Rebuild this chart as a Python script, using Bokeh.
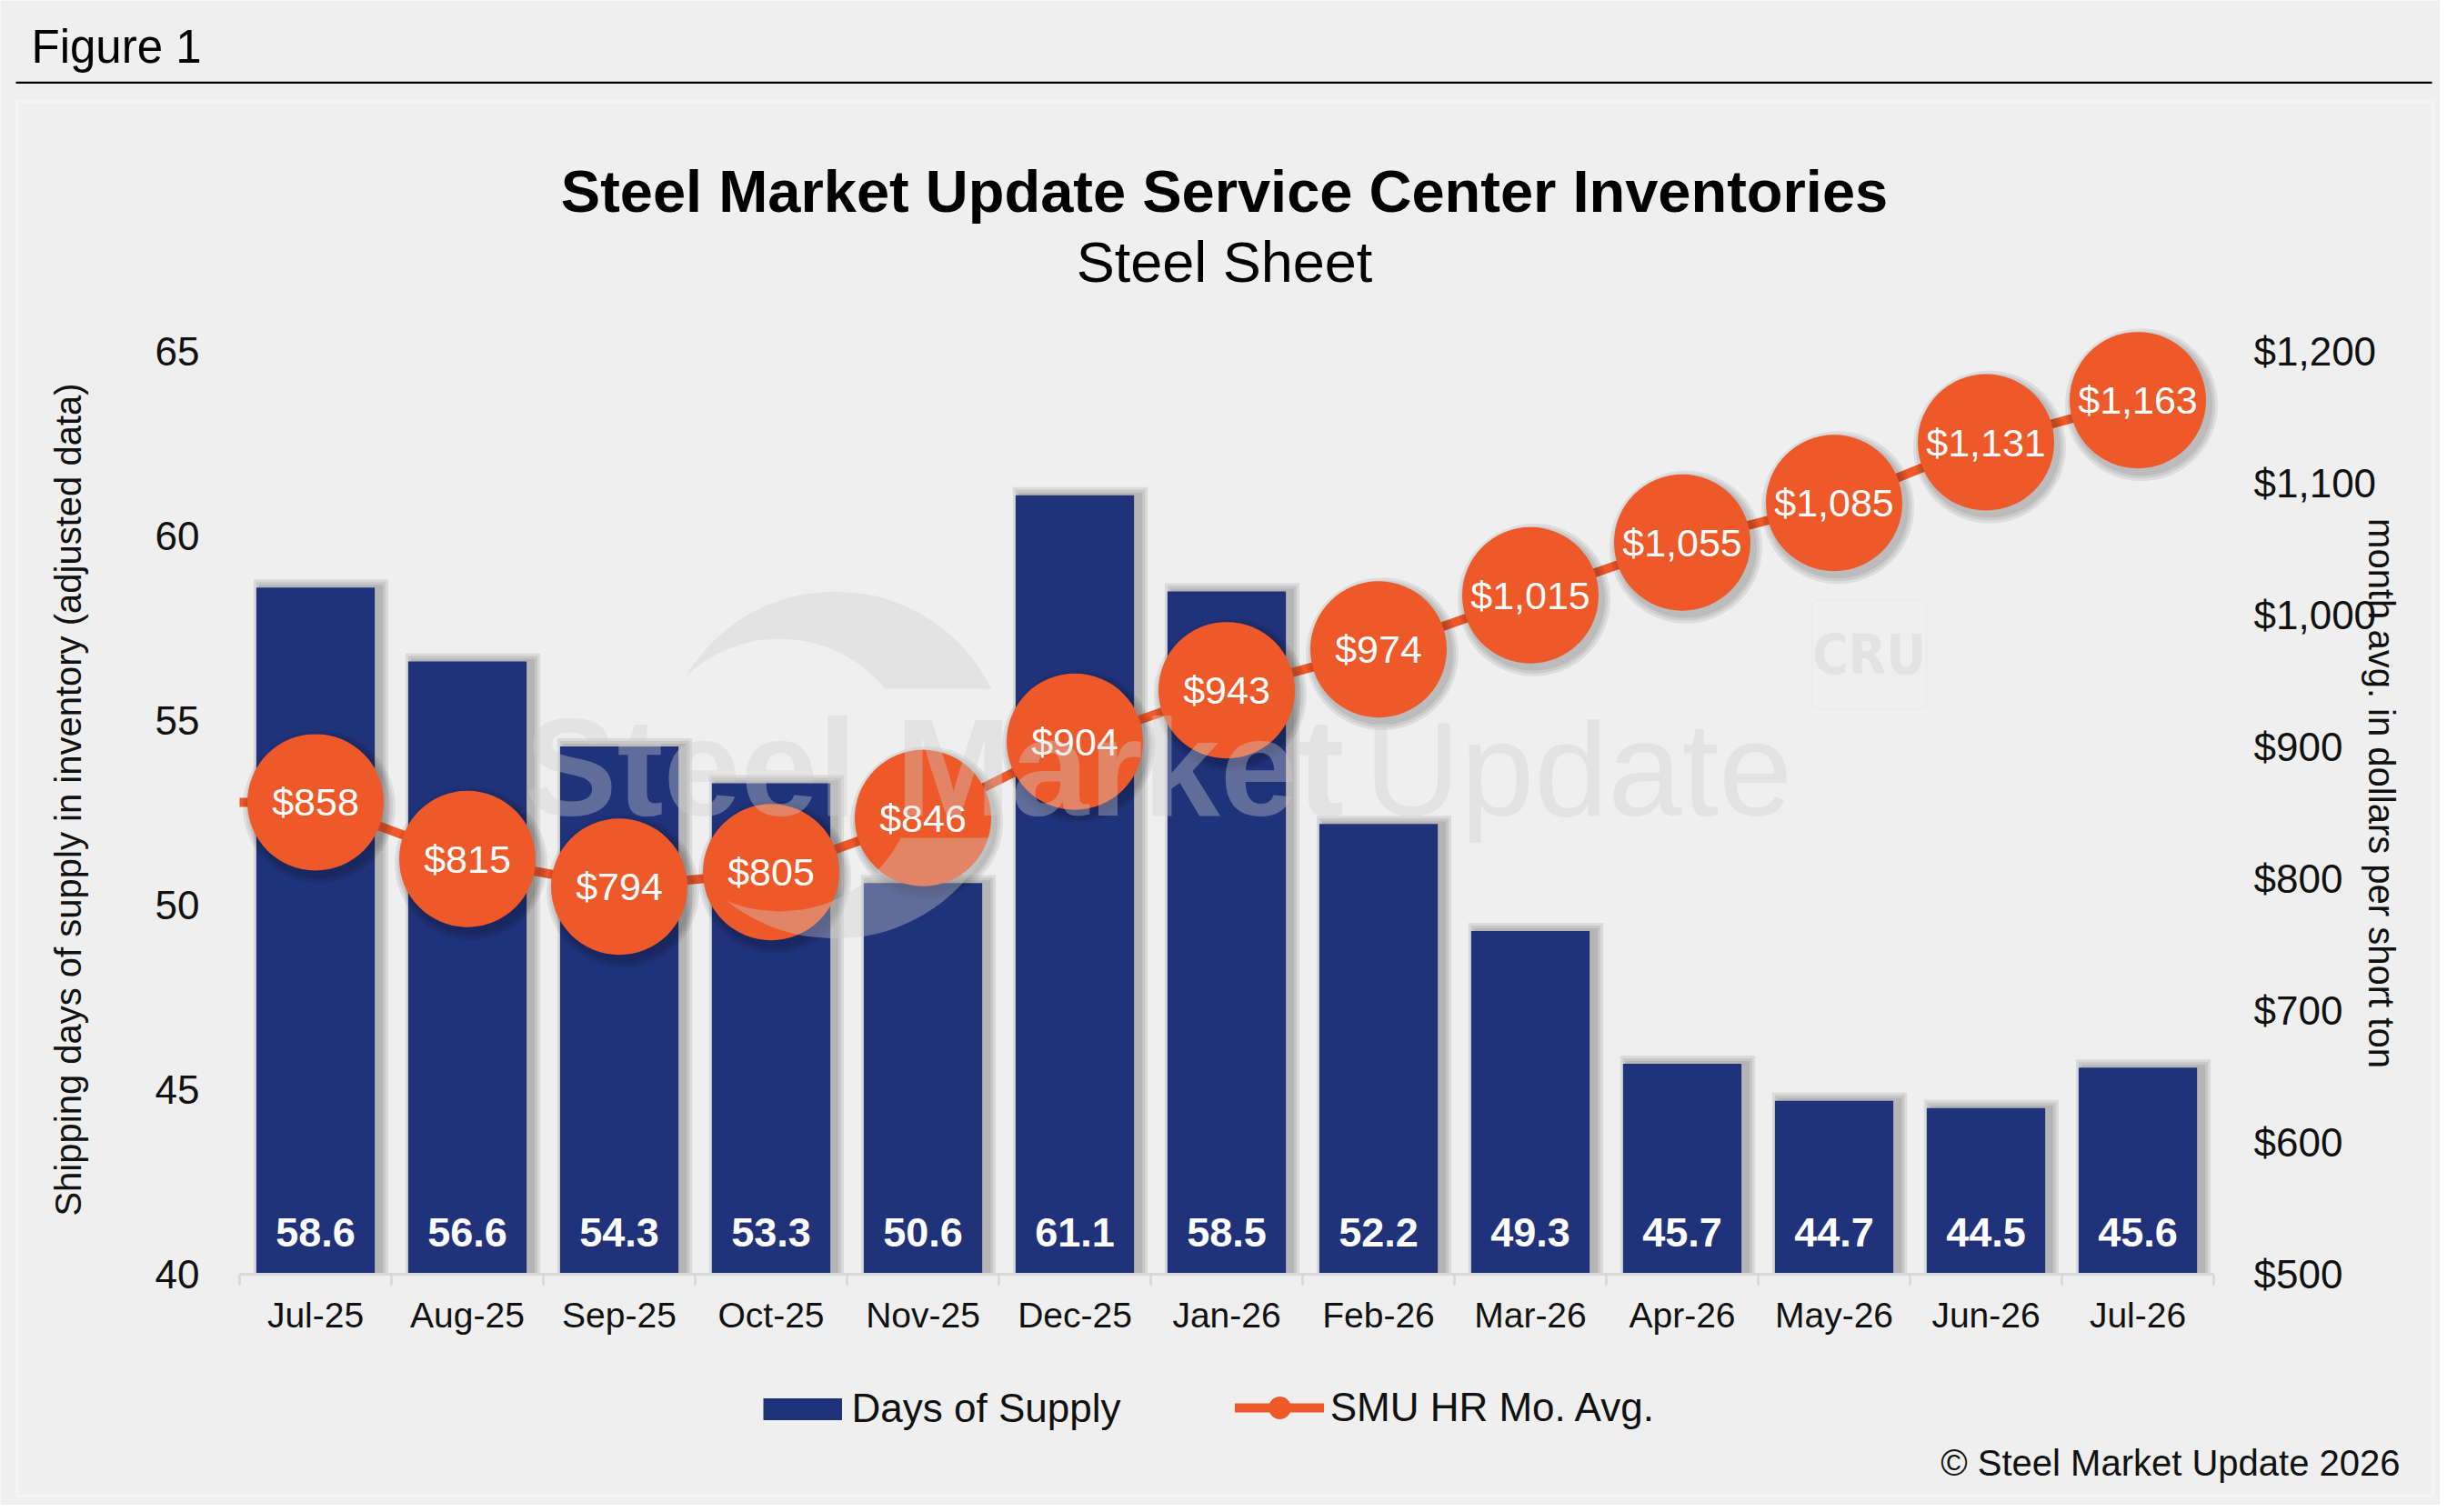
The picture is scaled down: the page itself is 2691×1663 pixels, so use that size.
import math
from bokeh.plotting import figure
from bokeh.models import (Range1d, LinearAxis, FixedTicker, NumeralTickFormatter,
                          Label, BoxAnnotation, Legend, LegendItem)
from bokeh.core.properties import value
from bokeh.embed import file_html
from bokeh.resources import INLINE

# ---------------- data ----------------
categories = ["Jul-25", "Aug-25", "Sep-25", "Oct-25", "Nov-25", "Dec-25", "Jan-26",
              "Feb-26", "Mar-26", "Apr-26", "May-26", "Jun-26", "Jul-26"]
days_of_supply = [58.6, 56.6, 54.3, 53.3, 50.6, 61.1, 58.5, 52.2, 49.3, 45.7, 44.7, 44.5, 45.6]
hr_price = [858, 815, 794, 805, 846, 904, 943, 974, 1015, 1055, 1085, 1131, 1163]
left_ticks = [40, 45, 50, 55, 60, 65]
right_ticks = [500, 600, 700, 800, 900, 1000, 1100, 1200]

# ---------------- style / layout (pixels on the canvas) ----------------
W, H = 2683, 1655
PLOT_LEFT = 263.0          # left edge of the category band
PLOT_BOTTOM = 1401.0       # y of the value axis minimum
PX_CAT = 167.0             # pixels per category
PX_DAY = 1015 / 25.0       # pixels per day of supply
PX_USD = 1015 / 700.0      # pixels per dollar
FONT = "Liberation Sans"
NAVY = "#20337a"
ORANGE = "#ee592a"
BG = "#efefef"
TXT = "#111111"
WM = "#cdcdcd"
WM_A = 0.37

n = len(categories)
idx = list(range(n))
bar_w = 0.78
y0 = left_ticks[0]
p0 = right_ticks[0]

def xd(px):
    return (px - PLOT_LEFT) / PX_CAT - 0.5

def yd(py):
    return y0 + (PLOT_BOTTOM - py) / PX_DAY

def pd_(py):
    return p0 + (PLOT_BOTTOM - py) / PX_USD

p = figure(width=W, height=H, output_backend="svg", toolbar_location=None,
           x_range=Range1d(xd(0), xd(W)), y_range=Range1d(yd(H), yd(0)),
           x_axis_location=None, y_axis_location=None,
           min_border=0, min_border_left=0, min_border_right=0,
           min_border_top=0, min_border_bottom=0,
           background_fill_color=BG, border_fill_color=BG, outline_line_color=None)
p.xgrid.visible = False
p.ygrid.visible = False
p.extra_y_ranges = {"price": Range1d(pd_(H), pd_(0))}

# axes (placed at fixed positions so that the frame covers the whole canvas)
xaxis = LinearAxis(ticker=FixedTicker(ticks=idx, minor_ticks=[i - 0.5 for i in range(n + 1)]),
                   fixed_location=y0, bounds=(-0.5, n - 0.5),
                   major_label_overrides={i: c for i, c in enumerate(categories)},
                   axis_line_color="#d9d9d9", axis_line_width=3,
                   major_tick_line_color=None, major_tick_in=0, major_tick_out=0,
                   minor_tick_line_color="#d9d9d9", minor_tick_line_width=3,
                   minor_tick_in=0, minor_tick_out=12,
                   major_label_standoff=11,
                   major_label_text_font=FONT, major_label_text_font_size="39px",
                   major_label_text_color=TXT)
p.add_layout(xaxis, "below")

yl = LinearAxis(ticker=FixedTicker(ticks=left_ticks), fixed_location=-0.5,
                bounds=(left_ticks[0], left_ticks[-1]),
                axis_line_color=None, major_tick_line_color=None, minor_tick_line_color=None,
                major_tick_in=0, major_tick_out=0, major_label_standoff=44,
                major_label_text_font=FONT, major_label_text_font_size="44px",
                major_label_text_color=TXT)
p.add_layout(yl, "left")

yr = LinearAxis(y_range_name="price", ticker=FixedTicker(ticks=right_ticks),
                fixed_location=n - 0.5, bounds=(right_ticks[0], right_ticks[-1]),
                formatter=NumeralTickFormatter(format="$0,0"),
                axis_line_color=None, major_tick_line_color=None, minor_tick_line_color=None,
                major_tick_in=0, major_tick_out=0, major_label_standoff=44,
                major_label_text_font=FONT, major_label_text_font_size="44px",
                major_label_text_color=TXT)
p.add_layout(yr, "right")

# bar shadows + bars
for k in (3, 2, 1):
    g = 3 * k
    p.vbar(x=[i + 6 / PX_CAT for i in idx], top=[d + g / PX_DAY for d in days_of_supply],
           bottom=y0, width=bar_w + 2 * g / PX_CAT,
           fill_color="black", fill_alpha=0.085, line_color=None)
bars = p.vbar(x=idx, top=days_of_supply, bottom=y0, width=bar_w,
              fill_color=NAVY, line_color=None)

# price line (with the stub from the plot edge), shadows, markers
p.line(x=[-0.5, idx[0]], y=[hr_price[0], hr_price[0]], y_range_name="price",
       line_color=ORANGE, line_width=10)
line_r = p.line(x=idx, y=hr_price, y_range_name="price", line_color=ORANGE,
                line_width=10, line_cap="round")
for k in (3, 2, 1):
    p.scatter(x=[i + 4 / PX_CAT for i in idx], y=[v - 5 / PX_USD for v in hr_price],
              y_range_name="price", size=150 + 6 * k, marker="circle",
              fill_color="black", fill_alpha=0.075, line_color=None)
circ_r = p.scatter(x=idx, y=hr_price, y_range_name="price", size=150, marker="circle",
                   fill_color=ORANGE, line_color=None)

# value labels
p.text(x=idx, y=[y0] * n, text=[f"{v:.1f}" for v in days_of_supply],
       text_font=value(FONT), text_font_style="bold", text_font_size="45px",
       text_color="white", text_align="center", text_baseline="middle", y_offset=-46)
p.text(x=idx, y=hr_price, y_range_name="price", text=[f"${v:,}" for v in hr_price],
       text_font=value(FONT), text_font_size="43px",
       text_color="white", text_align="center", text_baseline="middle")

# ---------------- watermark logo (crescent) ----------------
OCX, OCY, OR_ = 918, 841, 191
ICX, ICY, IR = 857, 852, 150
CUT_TOP, CUT_BOT = 757, 921

def ox(y, s):
    return OCX + s * math.sqrt(max(OR_ ** 2 - (y - OCY) ** 2, 0))

def ix(y, s):
    return ICX + s * math.sqrt(max(IR ** 2 - (y - ICY) ** 2, 0))

def lin(a, b, m=40):
    return [a + (b - a) * t / m for t in range(m + 1)]

top_pts = []
for y in lin(CUT_TOP, OCY - OR_):
    top_pts.append((ox(y, -1), y))
for y in lin(OCY - OR_, CUT_TOP):
    top_pts.append((ox(y, 1), y))
for y in lin(CUT_TOP, ICY - IR):
    top_pts.append((ix(y, 1), y))
for y in lin(ICY - IR, CUT_TOP):
    top_pts.append((max(ix(y, -1), ox(y, -1)), y))

bot_pts = []
for y in lin(CUT_BOT, OCY + OR_):
    bot_pts.append((ox(y, 1), y))
for y in lin(OCY + OR_, CUT_BOT):
    bot_pts.append((ox(y, -1), y))
for y in lin(CUT_BOT, ICY + IR):
    bot_pts.append((max(ix(y, -1), ox(y, -1)), y))
for y in lin(ICY + IR, CUT_BOT):
    bot_pts.append((ix(y, 1), y))

p.patches(xs=[[xd(a) for a, b in pts] for pts in (top_pts, bot_pts)],
          ys=[[yd(b) for a, b in pts] for pts in (top_pts, bot_pts)],
          fill_color=WM, fill_alpha=WM_A, line_color=None, level="overlay")

# ---------------- annotations in canvas units ----------------
def lab(x, y, text, **kw):
    kw.setdefault("text_font", FONT)
    kw.setdefault("text_color", TXT)
    kw.setdefault("text_baseline", "middle")
    return Label(x=x, y=y, x_units="canvas", y_units="canvas", text=text, **kw)

def box(l, r, t, b, **kw):
    return BoxAnnotation(left=l, right=r, top=t, bottom=b,
                         left_units="canvas", right_units="canvas",
                         top_units="canvas", bottom_units="canvas", **kw)

p.add_layout(lab(576, 843, "Steel Market", text_font_size="153px", text_font_style="bold",
                 text_color=WM, text_alpha=WM_A))
p.add_layout(lab(1500, 846, "Update", text_font_size="146px",
                 text_color=WM, text_alpha=WM_A))
p.add_layout(box(1992, 2118, 659, 779, fill_alpha=0, line_color="#e2e2e2",
                 line_width=2, border_radius=9))
p.add_layout(lab(2055, 719, "CRU",
                 text_font="'Liberation Sans Narrow', 'DejaVu Sans Condensed', sans-serif",
                 text_font_size="60px", text_font_style="bold", text_color="#e3e3e3",
                 text_align="center"))

# frame chrome
p.add_layout(box(17, 2674, 89.3, 91.5, fill_color="black", fill_alpha=1, line_color=None))
p.add_layout(box(18.5, 2675, 111.5, 1645, fill_alpha=0, line_color="white", line_width=3.5))

p.add_layout(lab(34, 51, "Figure 1", text_font_size="51px", text_color="black"))
p.add_layout(lab(1346, 210, "Steel Market Update Service Center Inventories",
                 text_font_size="65px", text_font_style="bold", text_color="black",
                 text_align="center"))
p.add_layout(lab(1346, 287, "Steel Sheet", text_font_size="63px", text_color="black",
                 text_align="center"))

# axis titles
p.add_layout(lab(74, 879, "Shipping days of supply in inventory (adjusted data)",
                 text_font_size="40px", angle=math.pi / 2, text_align="center"))
p.add_layout(lab(2618, 872, "month avg. in dollars per short ton",
                 text_font_size="40px", angle=-math.pi / 2, text_align="center"))

p.add_layout(lab(2639, 1608, "\u00a9 Steel Market Update 2026", text_font_size="40px",
                 text_align="right"))

# ---------------- legends ----------------
# a one-point line draws nothing on the plot; it only supplies the legend swatch
legend_bar = p.line(x=[idx[0]], y=[days_of_supply[0]], line_color=NAVY,
                    line_width=24, line_cap="butt")
common = dict(orientation="horizontal", padding=0, margin=0, spacing=0,
              border_line_color=None, background_fill_alpha=0,
              label_text_font=FONT, label_text_font_size="44px", label_text_color=TXT)
leg1 = Legend(items=[LegendItem(label="Days of Supply", renderers=[legend_bar])],
              location=(838.6, H - 1574.5), glyph_width=87, glyph_height=51,
              label_standoff=11, **common)
leg2 = Legend(items=[LegendItem(label="SMU HR Mo. Avg.", renderers=[line_r, circ_r])],
              location=(1357.7, H - 1579), glyph_width=98, glyph_height=62,
              label_standoff=7, **common)
p.add_layout(leg1, "center")
p.add_layout(leg2, "center")

open("out.html", "w").write(file_html(p, INLINE))
